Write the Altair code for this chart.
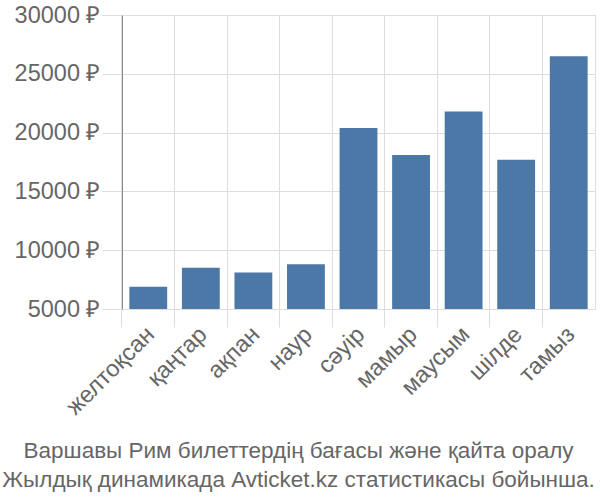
import altair as alt
import pandas as pd

months = ["желтоқсан", "қаңтар", "ақпан", "наур", "сәуір", "мамыр", "маусым", "шілде", "тамыз"]
prices = [6900, 8500, 8100, 8800, 20400, 18100, 21800, 17700, 26500]
y_ticks = [5000, 10000, 15000, 20000, 25000, 30000]
title_lines = ["Варшавы Рим билеттердің бағасы және қайта оралу",
               "Жылдық динамикада Avticket.kz статистикасы бойынша."]

df = pd.DataFrame({"month": months, "price": prices, "base": [5000] * len(months)})

chart = alt.Chart(df).mark_bar(color="#4c78a8").encode(
    x=alt.X("month:N", sort=months, title=None,
            scale=alt.Scale(paddingInner=0.28, paddingOuter=0.14),
            axis=alt.Axis(labelAngle=-45, labelFontSize=23.5, labelColor="#666666",
                          labelFont="Liberation Sans", domain=False,
                          tickSize=18, tickColor="#dddddd", bandPosition=-0.195,
                          grid=True, gridColor="#dddddd", labelPadding=-5, labelOffset=-6)),
    y=alt.Y("price:Q", title=None,
            scale=alt.Scale(domain=[5000, 30000], zero=False, nice=False),
            axis=alt.Axis(values=y_ticks, labelExpr="datum.value + ' ₽'",
                          labelFontSize=23.5, labelColor="#666666", labelFont="Liberation Sans",
                          tickSize=20, tickColor="#dddddd", gridColor="#dddddd",
                          domain=True, domainColor="#888888", labelPadding=2)),
    y2=alt.Y2("base:Q"),
).properties(
    width=473, height=294,
    autosize=alt.AutoSizeParams(type="none"),
    padding={"left": 122, "top": 15, "right": 5, "bottom": 191},
    title=alt.TitleParams(text=title_lines, orient="bottom", fontSize=22.5,
                          font="Liberation Sans", fontWeight="normal", color="#666666",
                          anchor="middle", frame="bounds", offset=21, lineHeight=29, dx=-6),
).configure_view(stroke="#dddddd")

chart.save("out.html", embed_options={"renderer": "svg", "actions": False})
